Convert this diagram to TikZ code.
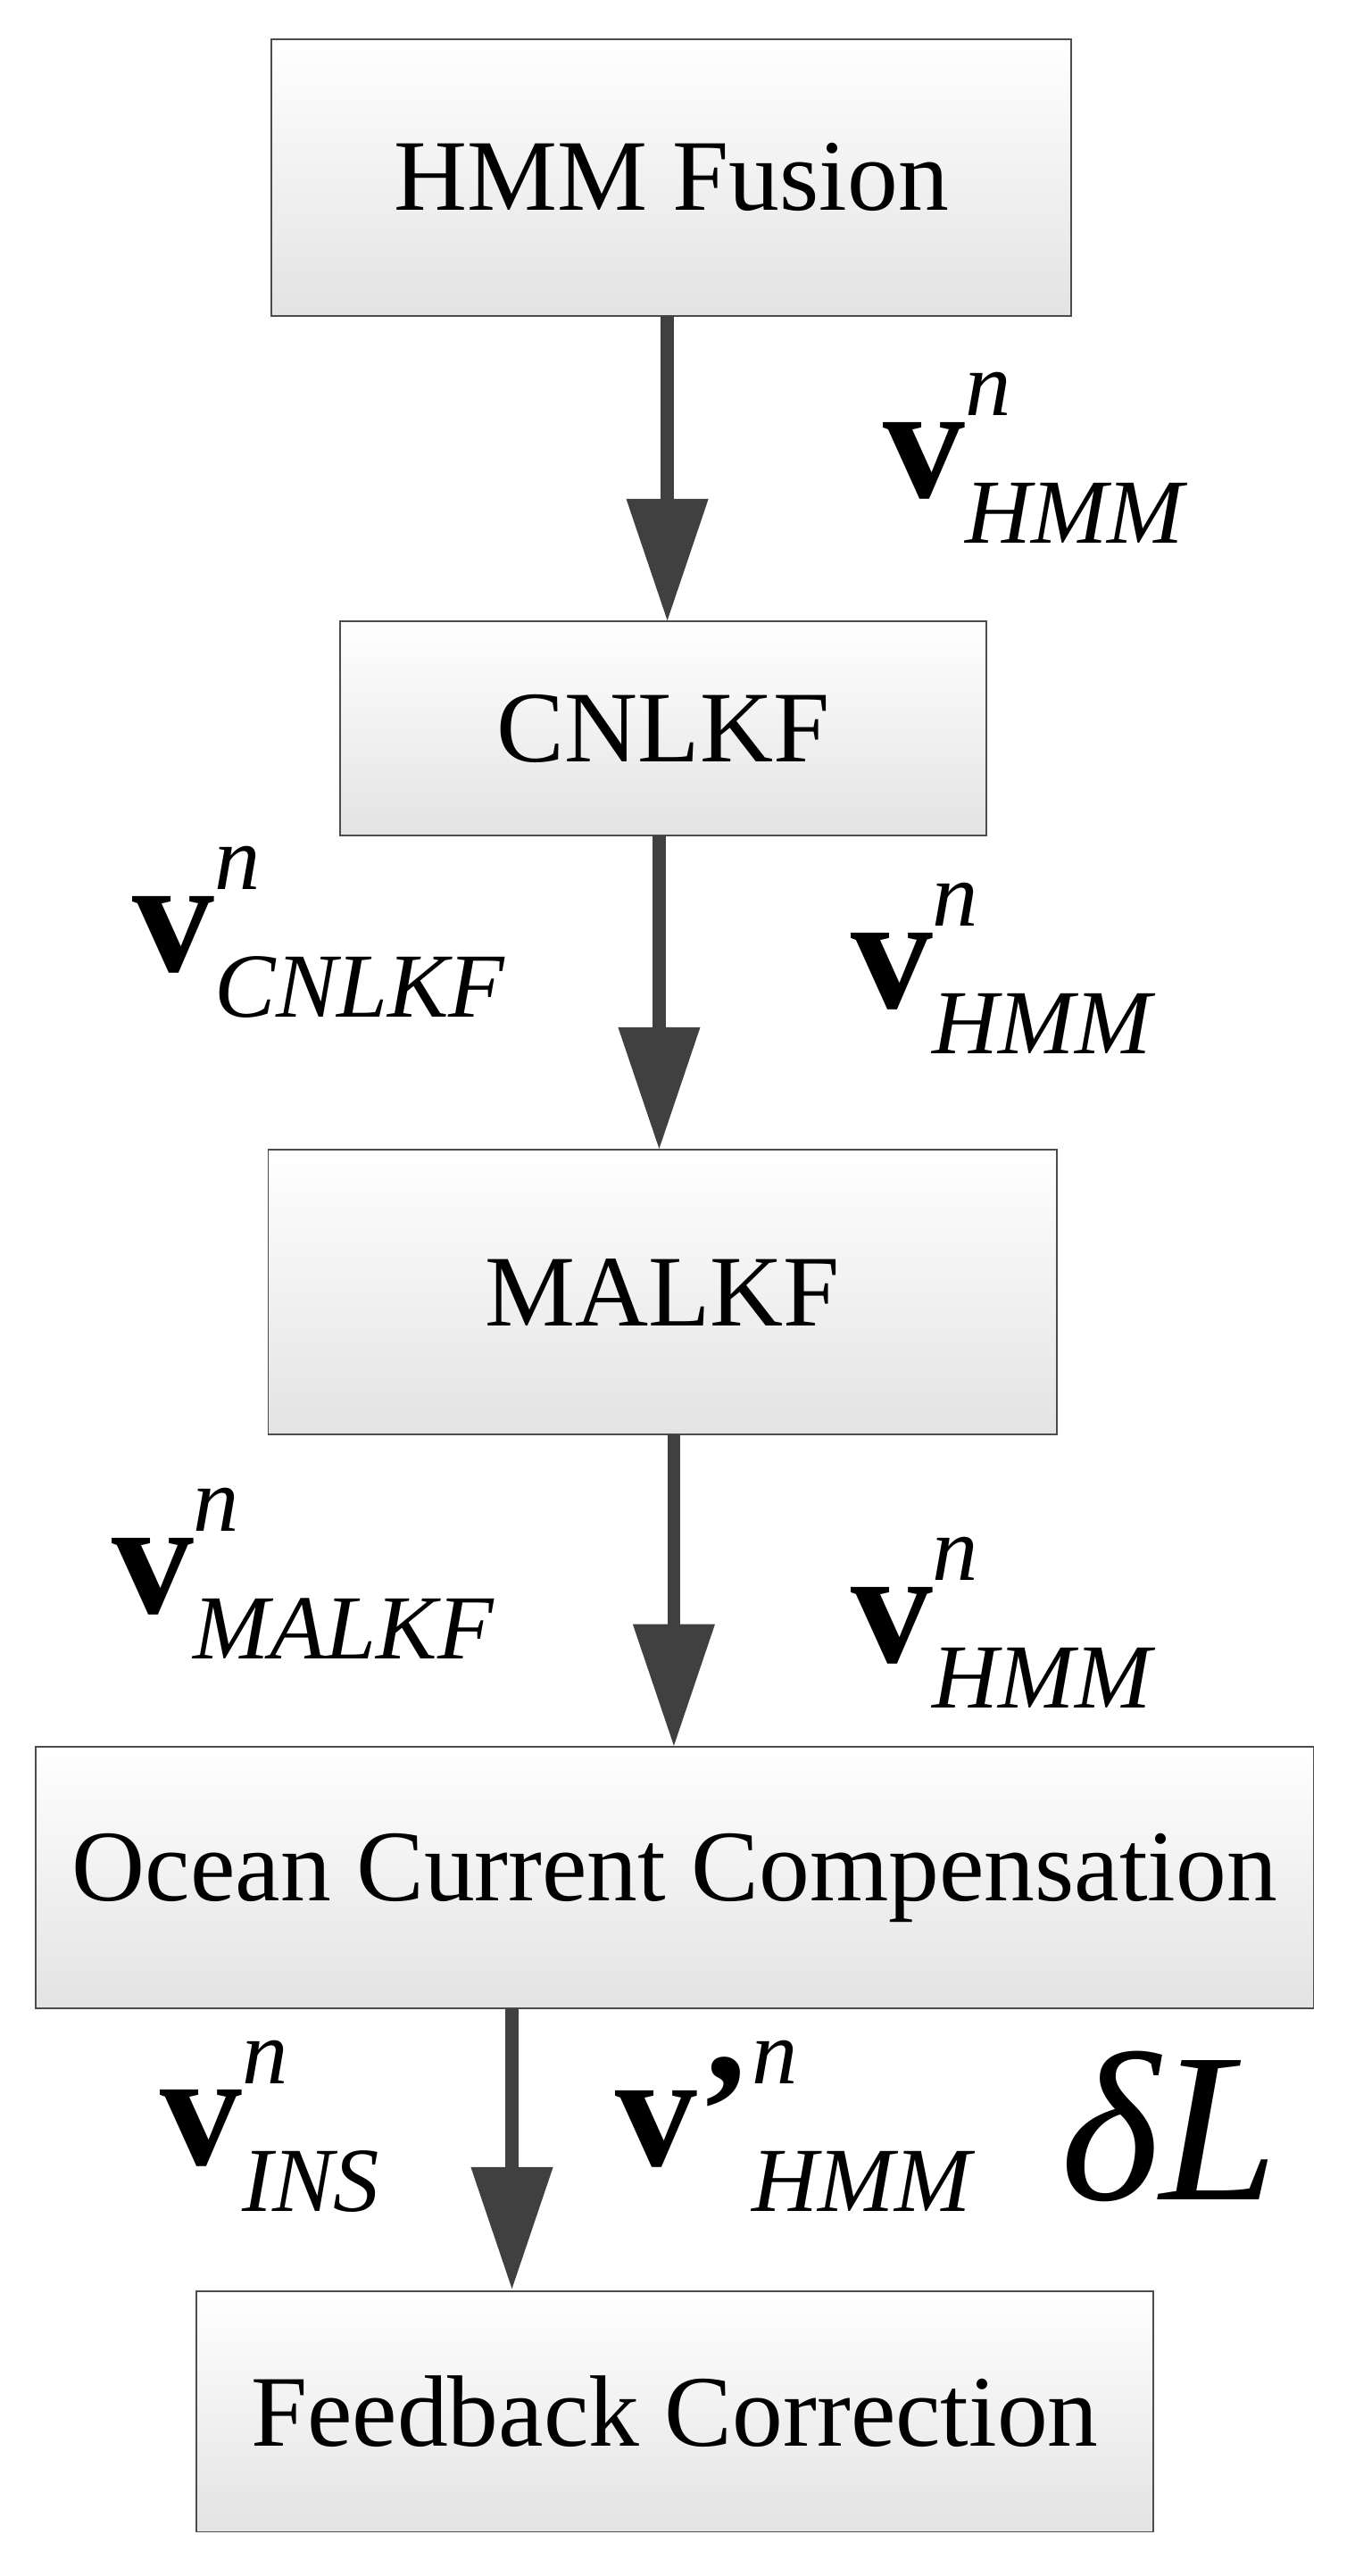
\documentclass[tikz,border=0pt]{standalone}
\usepackage{fontspec}
\setmainfont{Liberation Serif}
\usetikzlibrary{arrows.meta}
\newcommand{\velo}[2][]{\textbf{v#1}\rlap{\raisebox{50pt}{\fontsize{56}{60}\itshape n}}\raisebox{-28pt}{\fontsize{56}{60}\itshape #2}}
\tikzset{
  blok/.style={draw=black!70, line width=1pt, top color=white, bottom color=gray!22,
    inner sep=0pt, font=\fontsize{62}{66}\selectfont},
  flecha/.style={draw=black!75, line width=8pt, -{Triangle[length=75pt,width=48pt]}},
  etiq/.style={font=\fontsize{100}{104}\selectfont}
}
\begin{document}
\begin{tikzpicture}[x=1pt,y=-1pt]
  % Marco
  \useasboundingbox (0,0) rectangle (828,1575);

  % Bloques
  \node[blok, minimum width=489pt, minimum height=169pt] (hmm) at (410.5,108.5) {HMM Fusion};
  \node[blok, minimum width=395pt, minimum height=131pt] (cnlkf) at (405.5,445.5) {CNLKF};
  \node[blok, minimum width=482pt, minimum height=174pt] (malkf) at (405,790) {MALKF};
  \node[blok, minimum width=781pt, minimum height=160pt] (ocean) at (412.5,1148) {Ocean Current Compensation};
  \node[blok, minimum width=585pt, minimum height=147pt] (feedback) at (412.5,1474.5) {Feedback Correction};

  % Flechas
  \coordinate (a1) at (408,193);  \coordinate (b1) at (408,380);
  \coordinate (a2) at (403,511);  \coordinate (b2) at (403,703);
  \coordinate (a3) at (412,877);  \coordinate (b3) at (412,1068);
  \coordinate (a4) at (313,1228); \coordinate (b4) at (313,1400);
  \draw[flecha] (a1) -- (b1);
  \draw[flecha] (a2) -- (b2);
  \draw[flecha] (a3) -- (b3);
  \draw[flecha] (a4) -- (b4);

  % Etiquetas
  \node[etiq] (l1) at (632,280) {\velo{HMM}};
  \node[etiq] (l2) at (195,570) {\velo{CNLKF}};
  \node[etiq] (l3) at (612,592) {\velo{HMM}};
  \node[etiq] (l4) at (185,962) {\velo{MALKF}};
  \node[etiq] (l5) at (612,992) {\velo{HMM}};
  \node[etiq] (l6) at (165,1300) {\velo{INS}};
  \node[etiq] (l7) at (485,1300) {\velo[’]{HMM}};
  \node[font=\fontsize{130}{134}\selectfont\itshape] (dl) at (715,1300) {δL};
\end{tikzpicture}
\end{document}
